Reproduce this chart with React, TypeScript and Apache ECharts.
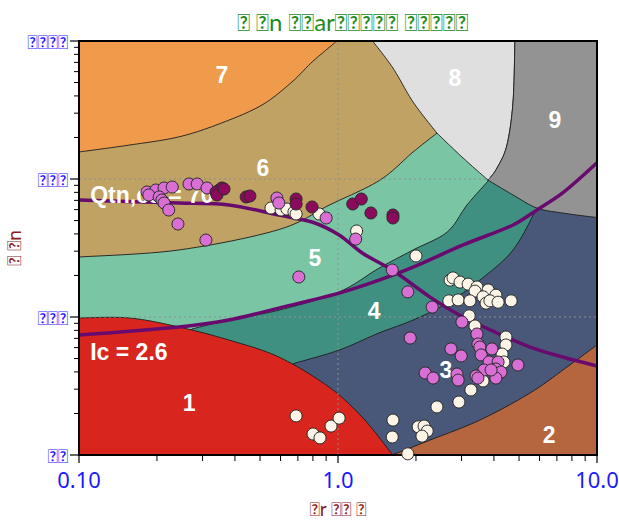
import React, { useEffect, useRef } from 'react';
import * as echarts from 'echarts';

// ---------- texts ----------
const titleText = '\uE000 \uE001n \uE002\uE003ar\uE004\uE005\uE006\uE007\uE008 \uE009\uE00A\uE00B\uE00C\uE00D';
const xAxisName = '\uE010r \uE011\uE012 \uE013';
const yAxisName = '\uE000 \uE001n';
const xTickLabels = ['0.10', '1.0', '10.0'];
const yTickLabels = ['\uE020\uE021', '\uE020\uE021\uE022', '\uE020\uE021\uE021', '\uE020\uE021\uE021\uE021'];

// ---------- ticks / grid ----------
const xMajorTicks = [0.1, 1, 10];
const xMinorTicks = [0.2, 0.3, 0.4, 0.5, 0.6, 0.7, 0.8, 0.9, 2, 3, 4, 5, 6, 7, 8, 9];
const yMajorTicks = [1, 10, 100, 1000];
const yMinorTicks = [2, 3, 4, 5, 6, 7, 8, 9, 20, 30, 40, 50, 60, 70, 80, 90, 200, 300, 400, 500, 600, 700, 800, 900];
const xGridValues = [1];
const yGridValues = [10, 100];

// ---------- zone boundaries [Fr, Qtn] ----------
const b1 = [[0.1, 9.84], [0.156, 9.84], [0.243, 8.47], [0.379, 6.81], [0.591, 5.13], [0.923, 3.11], [1.24, 1.88], [1.57, 1.09], [1.62, 1]];
const b32 = [[10, 6.27], [7.66, 4.34], [5.51, 2.81], [3.53, 1.79], [2.26, 1.28], [1.62, 1]];
const b43 = [[0.684, 4.64], [1.01, 5.76], [1.44, 7.66], [1.95, 9.51], [2.64, 12.6], [3.53, 18.5], [4.74, 30.6], [5.86, 61.6]];
const b54 = [[0.273, 8.19], [0.379, 9.51], [0.591, 11.2], [1.01, 15.2], [1.44, 22.6], [1.95, 30.6], [2.64, 41.3], [3.15, 64.9], [3.8, 96.7]];
const b65 = [[0.1, 27.2], [0.243, 30.6], [0.591, 43], [0.93, 65], [1.45, 98], [1.95, 157], [2.41, 215]];
const b76 = [[0.1, 157], [0.156, 176], [0.243, 202], [0.356, 255], [0.509, 344], [0.664, 505], [0.794, 704], [0.99, 1000]];
const b68 = [[1.36, 1000], [1.63, 637], [1.95, 361], [2.41, 215]];
const b85 = [[2.41, 215], [3.04, 142], [3.8, 98]];
const b89 = [[4.82, 1000], [4.74, 361], [4.49, 176], [4.11, 120], [3.8, 98]];
const b9low = [[3.8, 98], [4.74, 76.6], [5.86, 61.6], [7.37, 56.7], [9.66, 53], [10, 53]];

// ---------- reference lines ----------
const qtn70Line = [[0.1, 70.4], [0.243, 67], [0.379, 64.9], [0.591, 54.8], [0.794, 48.8], [1.01, 39.3], [1.24, 29.1], [1.62, 21.9], [2.26, 14.0], [3.04, 10.0], [4.11, 7.66], [5.51, 6.06], [7.37, 5.13], [10, 4.42]];
const ic26Line = [[0.1, 7.41], [0.243, 8.47], [0.379, 9.51], [0.591, 11.6], [1.01, 14.9], [1.44, 18.5], [1.95, 23.0], [3.04, 33.3], [4.74, 46.4], [5.86, 59.6], [7.37, 79.2], [10, 131]];

// ---------- labels ----------
const zoneLabelNames = ['1', '2', '3', '4', '5', '6', '7', '8', '9'];
const zoneLabelPositions = [[0.266, 2.38], [6.53, 1.40], [2.61, 4.13], [1.38, 11.0], [0.815, 26.8], [0.513, 120], [0.356, 567], [2.83, 539], [6.88, 268]];
const lineLabelNames = ['Qtn,cs = 70', 'Ic = 2.6'];
const lineLabelPositions = [[0.1105, 76.6], [0.1105, 5.58]];

// ---------- measured points ----------
const creamPoints = [
  [0.551, 61.6], [0.603, 59.6], [0.635, 60.6], [0.676, 57.6], [0.689, 55.8], [0.845, 55.8], [1.18, 42.0], [2.0, 27.7],
  [2.71, 18.5], [2.78, 19.2], [2.96, 17.9], [3.18, 17.3], [3.44, 16.5], [3.8, 15.7], [4.07, 14.4], [3.38, 15.4],
  [3.63, 14.0], [3.73, 12.6], [3.86, 13.1], [4.15, 12.8], [4.66, 13.1], [2.68, 13.1], [2.91, 13.3], [3.23, 13.1],
  [3.21, 10.2], [3.38, 8.61], [4.45, 7.16], [4.45, 6.27], [4.3, 5.39], [4.37, 4.72], [3.63, 3.44], [3.26, 2.96],
  [2.93, 2.42], [2.41, 2.23], [1.63, 1.79], [2.04, 1.6], [2.15, 1.62], [2.21, 1.49], [2.11, 1.37], [1.62, 1.35],
  [1.86, 1.02], [0.689, 1.92], [0.801, 1.42], [0.852, 1.33], [0.94, 1.62], [1.01, 1.85]
];
const orchidPoints = [
  [0.183, 80.5], [0.198, 83.2], [0.213, 86.1], [0.229, 87.5], [0.266, 92.0], [0.286, 92.0], [0.312, 86.1], [0.186, 76.6],
  [0.204, 74.1], [0.209, 70.4], [0.213, 67.0], [0.222, 59.6], [0.241, 47.2], [0.309, 36.1], [0.581, 72.8], [0.591, 67.0],
  [0.9, 52.2], [0.706, 19.5], [1.17, 36.7], [1.62, 21.9], [1.86, 15.2], [2.31, 11.8], [1.9, 7.04], [3.01, 9.2],
  [3.44, 7.53], [2.73, 5.87], [2.99, 5.22], [3.47, 6.37], [3.53, 6.06], [3.57, 5.31], [3.93, 5.87], [3.83, 4.72],
  [4.15, 4.72], [4.95, 4.49], [3.66, 4.13], [4.07, 4.2], [4.26, 3.99], [2.17, 3.93], [2.33, 3.61], [2.88, 3.86],
  [2.91, 3.49], [3.41, 3.74], [3.47, 3.61], [4.07, 3.61], [3.9, 4.13]
];
const darkPoints = [
  [0.348, 83.2], [0.356, 86.1], [0.338, 80.5], [0.341, 76.6], [0.363, 84.6], [0.442, 74.1], [0.457, 75.3], [0.689, 71.6],
  [0.689, 65.9], [0.794, 62.7], [1.14, 65.9], [1.23, 71.6], [1.34, 56.7], [1.63, 54.8], [1.63, 52.2]
];

// ---------- styles ----------
const ZONE_COLORS: Record<string, string> = {
  z1: '#d8261e', z2: '#b5663f', z3: '#495878', z4: '#409082', z5: '#7ac5a3',
  z6: '#c0a265', z7: '#f09a4b', z8: '#dfdfdf', z9: '#939393'
};

const rev = (a: number[][]) => a.slice().reverse();

// draw order: background zone 3 first, then overlays
const zoneDefs = [
  { color: ZONE_COLORS.z3, stroke: false, segs: [[[0.1, 1]], [[10, 1]], [[10, 1000]], [[0.1, 1000]]] },
  { color: ZONE_COLORS.z4, stroke: true, segs: [[[0.1, 1]], b43, [[5.86, 1000]], [[0.1, 1000]]] },
  { color: ZONE_COLORS.z5, stroke: true, segs: [[[0.1, 1]], b54, [[3.8, 1000]], [[0.1, 1000]]] },
  { color: ZONE_COLORS.z6, stroke: true, segs: [b65, [[2.41, 1000]], [[0.1, 1000]]] },
  { color: ZONE_COLORS.z7, stroke: true, segs: [b76, [[0.1, 1000]]] },
  { color: ZONE_COLORS.z8, stroke: true, segs: [b68, b85, rev(b89)] },
  { color: ZONE_COLORS.z9, stroke: true, segs: [b89, b9low, [[10, 1000]]] },
  { color: ZONE_COLORS.z2, stroke: true, segs: [b32, [[10, 1]]] },
  { color: ZONE_COLORS.z1, stroke: true, segs: [[[0.1, 1]], b1] }
];

function catmull(pts: number[][], seg = 12): number[][] {
  if (pts.length < 3) return pts;
  const out: number[][] = [];
  for (let i = 0; i < pts.length - 1; i++) {
    const p0 = pts[Math.max(i - 1, 0)], p1 = pts[i], p2 = pts[i + 1], p3 = pts[Math.min(i + 2, pts.length - 1)];
    for (let s = 0; s < seg; s++) {
      const t = s / seg, t2 = t * t, t3 = t2 * t;
      out.push([0, 1].map(k => 0.5 * (2 * p1[k] + (-p0[k] + p2[k]) * t + (2 * p0[k] - 5 * p1[k] + 4 * p2[k] - p3[k]) * t2 + (-p0[k] + 3 * p1[k] - 3 * p2[k] + p3[k]) * t3)));
    }
  }
  out.push(pts[pts.length - 1]);
  return out;
}

const labelFont = 'Liberation Sans';
const textFont = 'Lato';

function buildOption() {
  const decadeIndex = (v: number, base: number) => Math.round(Math.log10(v) - Math.log10(base));
  return {
    animation: false,
    title: {
      text: titleText,
      left: 348,
      top: 4,
      textAlign: 'center',
      textStyle: { color: '#1d8c1d', fontSize: 24, fontWeight: 'normal', fontFamily: textFont }
    },
    grid: { left: 79, right: 22, top: 41, bottom: 66, containLabel: false, outerBoundsMode: 'none' },
    xAxis: {
      type: 'log', logBase: 10, min: 0.1, max: 10,
      axisLine: { show: false }, axisTick: { show: false }, splitLine: { show: false },
      axisLabel: {
        color: '#1a1aff', fontSize: 22, fontFamily: 'Noto Sans', margin: 13,
        formatter: (v: number) => xTickLabels[decadeIndex(v, 0.1)] ?? ''
      },
      name: xAxisName, nameLocation: 'middle', nameGap: 44, nameMoveOverlap: false,
      nameTextStyle: { color: '#8b1a1a', fontSize: 19, fontFamily: textFont }
    },
    yAxis: {
      type: 'log', logBase: 10, min: 1, max: 1000,
      axisLine: { show: false }, axisTick: { show: false }, splitLine: { show: false },
      axisLabel: {
        color: '#1a1aff', fontSize: 19, fontFamily: textFont, margin: 11,
        formatter: (v: number) => yTickLabels[decadeIndex(v, 1)] ?? ''
      },
      name: yAxisName, nameLocation: 'middle', nameGap: 56, nameMoveOverlap: false,
      nameTextStyle: { color: '#8b1a1a', fontSize: 19, fontFamily: textFont }
    },
    series: [
      {
        type: 'custom', name: 'zones', z: 1, silent: true,
        data: zoneDefs.map((_, i) => [1, 10, i]),
        renderItem: (params: any, api: any) => {
          const zd = zoneDefs[api.value(2)];
          const pts: number[][] = [];
          zd.segs.forEach((seg: number[][]) => {
            const px = seg.map(p => api.coord(p));
            catmull(px).forEach(p => pts.push(p));
          });
          return {
            type: 'polygon',
            shape: { points: pts },
            style: { fill: zd.color, stroke: zd.stroke ? '#1c1c1c' : 'none', lineWidth: zd.stroke ? 0.9 : 0 }
          };
        }
      },
      {
        type: 'custom', name: 'gridlines', z: 2, silent: true,
        data: [[1, 10]],
        renderItem: (params: any, api: any) => {
          const children: any[] = [];
          xGridValues.forEach(v => {
            const a = api.coord([v, 1]), b = api.coord([v, 1000]);
            children.push({ type: 'line', shape: { x1: a[0], y1: a[1], x2: b[0], y2: b[1] }, style: { stroke: '#8f8f8f', lineWidth: 1, lineDash: [2, 3] } });
          });
          yGridValues.forEach(v => {
            const a = api.coord([0.1, v]), b = api.coord([10, v]);
            children.push({ type: 'line', shape: { x1: a[0], y1: a[1], x2: b[0], y2: b[1] }, style: { stroke: '#8f8f8f', lineWidth: 1, lineDash: [2, 3] } });
          });
          return { type: 'group', children };
        }
      },
      {
        type: 'line', name: 'Qtn,cs = 70', z: 3, data: qtn70Line, smooth: 0.3, symbol: 'none',
        lineStyle: { color: '#690a6e', width: 3.5 }, silent: true
      },
      {
        type: 'line', name: 'Ic = 2.6', z: 3, data: ic26Line, smooth: 0.3, symbol: 'none',
        lineStyle: { color: '#690a6e', width: 3.5 }, silent: true
      },
      {
        type: 'scatter', name: 'labels', z: 4, symbolSize: 0, silent: true,
        itemStyle: { opacity: 1 },
        data: [
          ...zoneLabelNames.map((n, i) => ({ name: n, value: zoneLabelPositions[i], label: { align: 'center' } })),
          ...lineLabelNames.map((n, i) => ({ name: n, value: lineLabelPositions[i], label: { align: 'left' } }))
        ],
        label: {
          show: true, position: 'inside', formatter: '{b}', color: '#ffffff', opacity: 1,
          fontSize: 23, fontWeight: 'bold', fontFamily: labelFont, verticalAlign: 'middle'
        }
      },
      {
        type: 'custom', name: 'frame', z: 5, silent: true, clip: false,
        data: [[1, 10]],
        renderItem: (params: any, api: any) => {
          const cs = params.coordSys;
          const children: any[] = [];
          const bottom = cs.y + cs.height;
          const left = cs.x;
          xMajorTicks.forEach(v => {
            const p = api.coord([v, 1]);
            children.push({ type: 'line', shape: { x1: p[0], y1: bottom, x2: p[0], y2: bottom + 8 }, style: { stroke: '#000', lineWidth: 1.2 } });
          });
          xMinorTicks.forEach(v => {
            const p = api.coord([v, 1]);
            children.push({ type: 'line', shape: { x1: p[0], y1: bottom, x2: p[0], y2: bottom + 6 }, style: { stroke: '#000', lineWidth: 1 } });
          });
          yMajorTicks.forEach(v => {
            const p = api.coord([0.1, v]);
            children.push({ type: 'line', shape: { x1: left - 9, y1: p[1], x2: left, y2: p[1] }, style: { stroke: '#000', lineWidth: 1.2 } });
          });
          yMinorTicks.forEach(v => {
            const p = api.coord([0.1, v]);
            children.push({ type: 'line', shape: { x1: left - 5, y1: p[1], x2: left, y2: p[1] }, style: { stroke: '#000', lineWidth: 1 } });
          });
          children.push({ type: 'rect', shape: { x: cs.x, y: cs.y, width: cs.width, height: cs.height }, style: { fill: 'none', stroke: '#000', lineWidth: 2 } });
          return { type: 'group', children };
        }
      },
      {
        type: 'scatter', name: 'cream', z: 6, data: creamPoints, symbolSize: 12, clip: false,
        itemStyle: { color: '#fcf4e6', borderColor: '#2a2a2a', borderWidth: 1, opacity: 1 }
      },
      {
        type: 'scatter', name: 'orchid', z: 6, data: orchidPoints, symbolSize: 12,
        itemStyle: { color: '#d96fd5', borderColor: '#2a2a2a', borderWidth: 1, opacity: 1 }
      },
      {
        type: 'scatter', name: 'dark', z: 6, data: darkPoints, symbolSize: 12,
        itemStyle: { color: '#8b0a5c', borderColor: '#2a2a2a', borderWidth: 1, opacity: 1 }
      }
    ]
  };
}

export default function App() {
  const ref = useRef<HTMLDivElement>(null);
  useEffect(() => {
    if (!ref.current) return;
    const chart = echarts.init(ref.current, null, { renderer: 'svg' });
    chart.setOption(buildOption() as any);
    return () => chart.dispose();
  }, []);
  return <div ref={ref} style={{ position: 'absolute', left: 0, top: 0, width: 619, height: 521 }} />;
}
